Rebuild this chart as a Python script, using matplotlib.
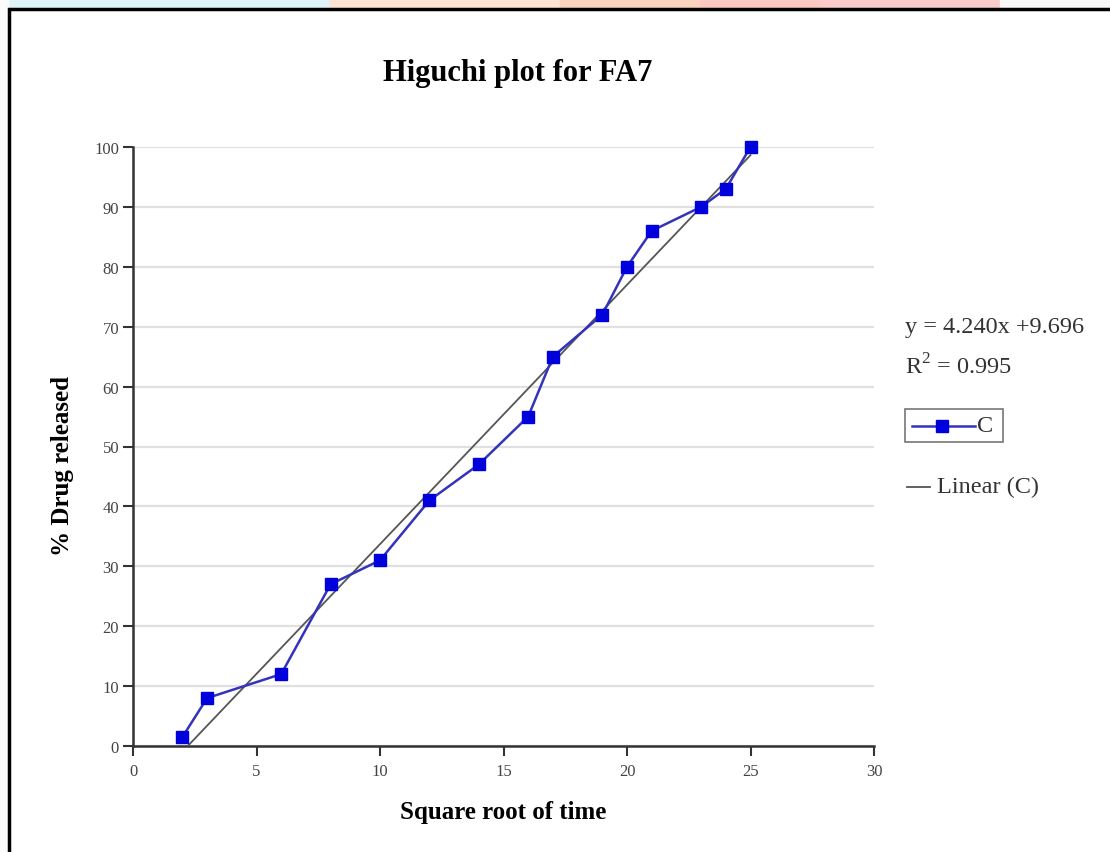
import numpy as np
import matplotlib
matplotlib.use("Agg")
import matplotlib.pyplot as plt
from matplotlib.patches import Rectangle
from matplotlib.lines import Line2D

sqrt_time = [2, 3, 6, 8, 10, 12, 14, 16, 17, 19, 20, 21, 23, 24, 25]
drug_released = [1.5, 8, 12, 27, 31, 41, 47, 55, 65, 72, 80, 86, 90, 93, 100]
x_ticks = [0, 5, 10, 15, 20, 25, 30]
y_ticks = [0, 10, 20, 30, 40, 50, 60, 70, 80, 90, 100]
title = "Higuchi plot for FA7"
eq_text = "y = 4.240x +9.696"
r2_text = "R$^2$ = 0.995"

plt.rcParams['font.family'] = ['Liberation Serif', 'DejaVu Serif']
plt.rcParams['mathtext.fontset'] = 'custom'
plt.rcParams['mathtext.rm'] = 'Liberation Serif'

W, H = 1110, 853
fig = plt.figure(figsize=(W / 100, H / 100), dpi=100)
fig.patch.set_facecolor('white')

# background strip at top / left (watermark-like)
bg = [(0, 330, '#dff3f8'), (330, 560, '#fde3d3'), (560, 700, '#fbd2bd'),
      (700, 820, '#fcc9c2'), (820, 1000, '#fbcaca'), (1000, 1110, '#f7f7f7')]
for x0, x1, c in bg:
    fig.patches.append(Rectangle((x0 / W, 1 - 10 / H), (x1 - x0) / W, 10 / H,
                                 transform=fig.transFigure, color=c, zorder=0))
fig.patches.append(Rectangle((0, 0), 8 / W, 1, transform=fig.transFigure,
                             color='#fbfbfb', zorder=0))
# black frame
fig.patches.append(Rectangle((9 / W, -0.05), 1.1, (H - 10) / H + 0.05,
                             transform=fig.transFigure, facecolor='white',
                             edgecolor='black', linewidth=2.5, zorder=1))

ax = fig.add_axes([133 / W, 1 - 747 / H, (874 - 133) / W, (747 - 148) / H])
ax.set_zorder(2)
ax.patch.set_alpha(0)

ax.set_xlim(0, 30)
ax.set_ylim(0, 100)
ax.set_xticks(x_ticks)
ax.set_yticks(y_ticks)
ax.grid(axis='y', color='#e0e0e0', linewidth=1.6)
ax.set_axisbelow(True)
for s in ['top', 'right']:
    ax.spines[s].set_visible(False)
for s in ['left', 'bottom']:
    ax.spines[s].set_color('#333333')
    ax.spines[s].set_linewidth(1.8)
ax.tick_params(axis='both', direction='out', length=7, width=1.5, color='#333333',
               labelsize=12, labelcolor='#444444')
ax.tick_params(axis='x', pad=5)
ax.tick_params(axis='y', pad=3)

# trend line
coef = np.polyfit(sqrt_time, drug_released, 1)
xt = np.array([min(sqrt_time), max(sqrt_time)])
ax.plot(xt, np.polyval(coef, xt), color='#555555', linewidth=1.3, zorder=3)

ax.plot(sqrt_time, drug_released, color='#3333bb', linewidth=1.8, marker='s',
        markersize=8, markerfacecolor='#0000dd', markeredgecolor='#0000dd',
        zorder=4, clip_on=False)

ax.set_xlabel("Square root of time", fontsize=18, fontweight='bold')
ax.set_ylabel("% Drug released", fontsize=18, fontweight='bold')
ax.xaxis.set_label_coords(0.5, -0.110)
ax.yaxis.set_label_coords(-0.095, 0.469)
ax.xaxis.label.set_va('center')
ax.yaxis.label.set_va('center')
fig.text(518 / W, 1 - 73 / H, title, fontsize=22, fontweight='bold',
         ha='center', va='center')

# equation and legend
fs = 17.5
fig.text(905 / W, 1 - 328 / H, eq_text, fontsize=fs, color='#333333',
         ha='left', va='center')
fig.text(905 / W, 1 - 367 / H, r2_text, fontsize=fs, color='#333333',
         ha='left', va='center')
fig.patches.append(Rectangle((905 / W, 1 - 443 / H), 98 / W, 33 / H,
                             transform=fig.transFigure, facecolor='white',
                             edgecolor='#777777', linewidth=1.2, zorder=3))
fig.lines.append(Line2D([912 / W, 975 / W], [1 - 427 / H, 1 - 427 / H],
                        transform=fig.transFigure, color='#3333bb', linewidth=1.8,
                        zorder=4))
fig.lines.append(Line2D([942 / W], [1 - 427 / H], transform=fig.transFigure,
                        marker='s', markersize=8, color='#0000dd', zorder=5))
fig.text(977 / W, 1 - 427 / H, "C", fontsize=fs, color='#333333',
         ha='left', va='center', zorder=5)
fig.lines.append(Line2D([907 / W, 930 / W], [1 - 488 / H, 1 - 488 / H],
                        transform=fig.transFigure, color='#555555', linewidth=1.3))
fig.text(937 / W, 1 - 487 / H, "Linear (C)", fontsize=fs, color='#333333',
         ha='left', va='center')

fig.savefig("out.png", dpi=100)
